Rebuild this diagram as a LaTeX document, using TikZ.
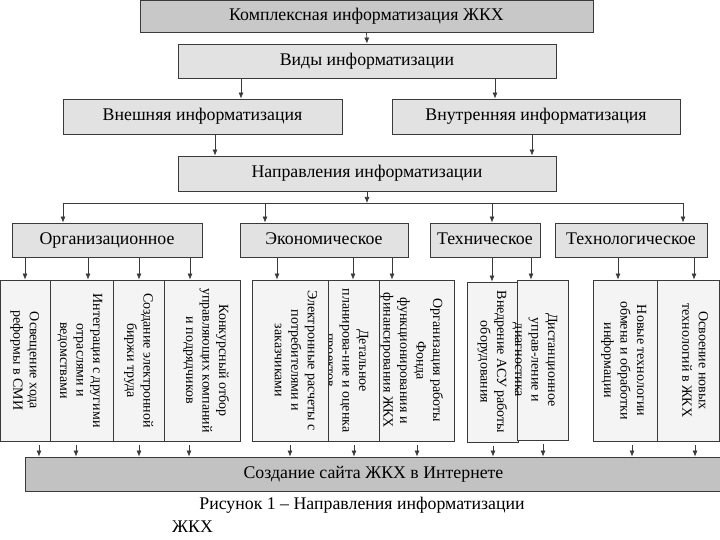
\documentclass[tikz,border=0pt]{standalone}
\usepackage{fontspec}
\setmainfont{Liberation Serif}
\usetikzlibrary{arrows.meta}
\definecolor{ZhkhDark}{HTML}{C8C8C8}
\definecolor{ZhkhSite}{HTML}{C2C2C2}
\definecolor{ZhkhMid}{HTML}{E2E2E2}
\definecolor{ZhkhLight}{HTML}{F4F4F4}
\definecolor{ZhkhLine}{HTML}{3A3A3A}

\begin{document}
\begin{tikzpicture}[x=1pt,y=-1pt,
  box/.style={draw=ZhkhLine,line width=.8pt,fill=ZhkhMid,inner sep=0pt,text height=12pt,text depth=3.5pt,font=\fontsize{17.8}{20}\selectfont},
  darkbox/.style={box,fill=ZhkhDark},
  leafbox/.style={draw=ZhkhLine,line width=.8pt,fill=ZhkhLight,inner sep=0pt},
  leaftext/.style={rotate=-90,anchor=north,align=center,inner sep=0pt,font=\fontsize{14}{16.5}\selectfont},
  arr/.style={draw=ZhkhLine,line width=.7pt,-{Latex[length=6pt,width=5pt]}}]
\path[use as bounding box] (0,0) rectangle (720,540);
\fill[white] (0,0) rectangle (720,540);
% upper levels
\node[darkbox,minimum width=453,minimum height=31.5] (kompl) at (366.5,16.25) {Комплексная информатизация ЖКХ};
\node[box,minimum width=378,minimum height=34] (vidy) at (367,61) {Виды информатизации};
\node[box,minimum width=279,minimum height=35] (vneshn) at (202.5,116.5) {Внешняя информатизация};
\node[box,minimum width=288,minimum height=35] (vnutr) at (536,116.5) {Внутренняя информатизация};
\node[box,minimum width=378,minimum height=35] (napr) at (367,173.5) {Направления информатизации};
\draw[arr] (kompl.south) -- (vidy.north);
\draw[arr] (241,0 |- vidy.south) -- (241,0 |- vneshn.north);
\draw[arr] (495,0 |- vidy.south) -- (495,0 |- vnutr.north);
\draw[arr] (215,0 |- vneshn.south) -- (215,0 |- napr.north);
\draw[arr] (532,0 |- vnutr.south) -- (532,0 |- napr.north);
% directions
\node[box,minimum width=190,minimum height=34] (org) at (107,240) {Организационное};
\node[box,minimum width=168,minimum height=34] (ekon) at (324,240) {Экономическое};
\node[box,minimum width=110,minimum height=34] (tech) at (485,240) {Техническое};
\node[box,minimum width=152,minimum height=34] (techno) at (631,240) {Технологическое};
\coordinate (busL) at (63,203);
\coordinate (busR) at (683,203);
\draw[arr] (napr.south) -- (napr.south |- busL);
\draw[ZhkhLine,line width=.7pt] (busL) -- (busR);
\draw[arr] (busL) -- (busL |- org.north);
\draw[arr] (265,0 |- busL) -- (265,0 |- ekon.north);
\draw[arr] (492,0 |- busL) -- (492,0 |- tech.north);
\draw[arr] (busR) -- (busR |- techno.north);
% leaves
\node[leafbox,minimum width=49.5,minimum height=161] (o1) at (25.25,360.5) {};
\node[leaftext] at ([xshift=-11pt]o1.east) {Освещение хода\\реформы в СМИ};
\node[leafbox,minimum width=63,minimum height=161] (o2) at (81.5,360.5) {};
\node[leaftext] at ([xshift=-11pt]o2.east) {Интеграция с другими\\отраслями и\\ведомствами};
\node[leafbox,minimum width=51,minimum height=161] (o3) at (138.5,360.5) {};
\node[leaftext] at ([xshift=-11pt]o3.east) {Создание электронной\\биржи труда};
\node[leafbox,minimum width=76,minimum height=161] (o4) at (202,360.5) {};
\node[leaftext] at ([xshift=-11pt]o4.east) {Конкурсный отбор\\управляющих компаний\\и подрядчиков};
\node[leafbox,minimum width=51,minimum height=161] (e2) at (353.5,360.5) {};
\node[leaftext] at ([xshift=-11pt]e2.east) {Детальное\\планирова-ние и оценка\\проектов};
\node[leafbox,minimum width=76,minimum height=161] (e1) at (290,360.5) {};
\node[leaftext] at ([xshift=-11pt]e1.east) {Электронные расчеты с\\потребителями и\\заказчиками};
\node[leafbox,minimum width=75,minimum height=161] (e3) at (416.5,360.5) {};
\node[leaftext] at ([xshift=-11pt]e3.east) {Организация работы\\Фонда\\функционирования и\\финансирования ЖКХ};
\node[leafbox,minimum width=51,minimum height=160] (t1) at (492.5,362) {};
\node[leaftext] at ([xshift=-11pt]t1.east) {Внедрение АСУ работы\\оборудования};
\node[leafbox,minimum width=51,minimum height=160] (t2) at (542.5,360) {};
\node[leaftext] at ([xshift=-11pt]t2.east) {Дистанционное\\управ-ление и\\диагностика};
\node[leafbox,minimum width=64,minimum height=161] (n1) at (625,360.5) {};
\node[leaftext] at ([xshift=-11pt]n1.east) {Новые технологии\\обмена и обработки\\информации};
\node[leafbox,minimum width=62,minimum height=161] (n2) at (688,360.5) {};
\node[leaftext] at ([xshift=-11pt]n2.east) {Освоение новых\\технологий в ЖКХ};
\foreach \x/\up/\lf in {25/org/o1,88/org/o2,139/org/o3,190/org/o4,277/ekon/e1,353/ekon/e2,392/ekon/e3,492/tech/t1,531/tech/t2,618/techno/n1,694/techno/n2}
  \draw[arr] (\x,0 |- \up.south) -- (\x,0 |- \lf.north);
% result
\node[darkbox,fill=ZhkhSite,minimum width=697,minimum height=34] (site) at (373.5,474) {Создание сайта ЖКХ в Интернете};
\foreach \x/\lf in {39/o1,76/o2,139/o3,189/o4,290/e1,354/e2,417/e3,493/t1,543/t2,632/n1,695/n2}
  \draw[arr] (\x,0 |- \lf.south) ++(0,4) -- (\x,0 |- site.north);
\node[font=\fontsize{17.8}{20}\selectfont] (cap1) at (362,505) {Рисунок 1 – Направления информатизации};
\node[font=\fontsize{17.8}{20}\selectfont,anchor=west,inner sep=0pt] (cap2) at (172,527) {ЖКХ};
\end{tikzpicture}
\end{document}
